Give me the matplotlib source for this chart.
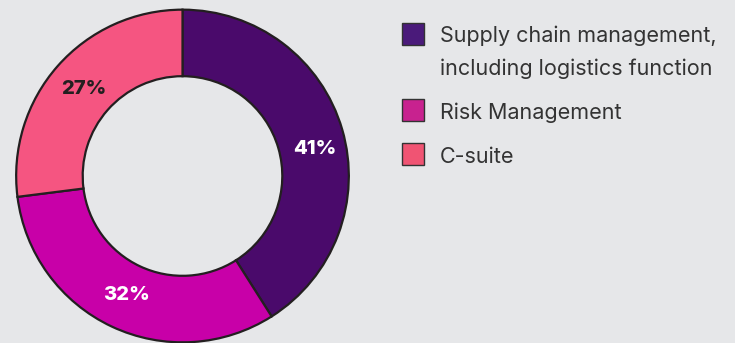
import matplotlib
matplotlib.use("Agg")
import matplotlib.pyplot as plt
from matplotlib.patches import Rectangle

# Share of respondents by function
categories = ["Supply chain management,\nincluding logistics function", "Risk Management", "C-suite"]
shares = [41, 32, 27]
wedge_colors = ["#4A0A6B", "#C800A8", "#F55581"]
legend_colors = ["#4A1A7A", "#C8228F", "#F05473"]
label_colors = ["white", "white", "#231F20"]

BG = "#E6E7E9"
EDGE = "#231F20"

plt.rcParams["font.family"] = ["Inter", "DejaVu Sans"]

W, H = 735, 343
fig = plt.figure(figsize=(W / 100, H / 100), dpi=100, facecolor=BG)

# donut
cx, cy, r = 182.5, 343 - 176, 168
ax = fig.add_axes([(cx - r) / W, (cy - r) / H, 2 * r / W, 2 * r / H])
ax.set_facecolor(BG)
wedges, _, autotexts = ax.pie(
    shares, colors=wedge_colors, startangle=90, counterclock=False,
    radius=1.0, autopct="%d%%", pctdistance=0.79,
    wedgeprops=dict(width=0.4, edgecolor=EDGE, linewidth=1.6),
    textprops=dict(fontsize=14.5, fontweight="heavy"),
)
for t, c in zip(autotexts, label_colors):
    t.set_color(c)
# the largest label sits a little further out
x0, y0 = autotexts[0].get_position()
autotexts[0].set_position((x0 * 1.05, y0 * 0.75))
ax.set_xlim(-1.01, 1.01)
ax.set_ylim(-1.01, 1.01)
ax.set_aspect("equal")
ax.axis("off")

# legend
box_tops = [23, 99, 143]
text_bases = [75, 119, 163]
for top, base, lab, col in zip(box_tops, text_bases, categories, legend_colors):
    fig.patches.append(Rectangle((402 / W, (H - top - 22) / H), 22 / W, 22 / H,
                                 transform=fig.transFigure, facecolor=col,
                                 edgecolor="#333333", linewidth=1.0))
    fig.text(440 / W, (H - base) / H, lab, fontsize=15.5, color="#333333",
             va="baseline", ha="left", linespacing=1.75)

fig.savefig("out.png", dpi=100, facecolor=BG)
